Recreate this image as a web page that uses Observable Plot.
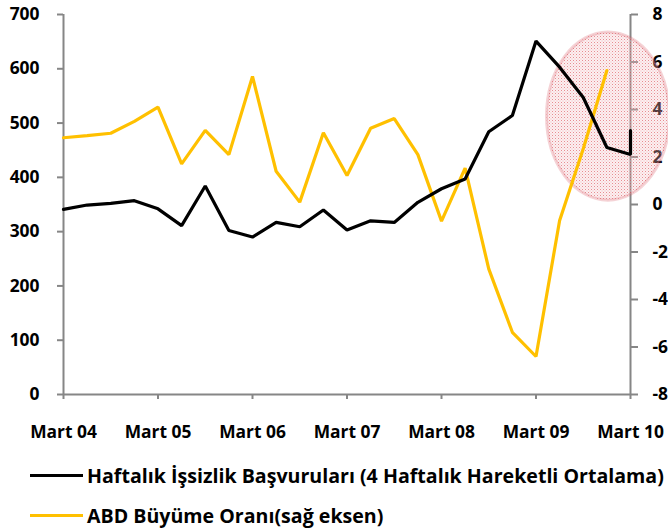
<!DOCTYPE html>
<html>
<head>
<meta charset="utf-8">
<script src="https://cdn.jsdelivr.net/npm/d3@7"></script>
<script src="https://cdn.jsdelivr.net/npm/@observablehq/plot@0.6"></script>
<style>
  html, body { margin: 0; padding: 0; background: #fff; overflow: hidden; }
  body { width: 668px; height: 531px; font-family: "Open Sans", sans-serif; font-weight: 700; }
  #legend { position: absolute; left: 30px; top: 455px; }
  .item { display: flex; align-items: center; height: 40px; font-size: 19.6px; font-weight: 700; color: #000; white-space: nowrap; }
  .sw { width: 53px; height: 3px; margin-right: 4px; }
</style>
</head>
<body>
<div id="chart"></div>
<div id="legend"></div>
<script>
// Quarter index in months since Mart 2004
const claimsMonths = [0,3,6,9,12,15,18,21,24,27,30,33,36,39,42,45,48,51,54,57,60,63,66,69,72,72];
const claims = [341,349,352,357,342,311,384,302,290,317,309,340,303,320,317,354,379,397,484,514,651,603,547,455,442,486];
const growthMonths = [0,3,6,9,12,15,18,21,24,27,30,33,36,39,42,45,48,51,54,57,60,63,66,69];
const growth = [2.81,2.9,3.0,3.5,4.1,1.71,3.12,2.1,5.39,1.40,0.1,3.02,1.22,3.21,3.62,2.1,-0.7,1.53,-2.71,-5.38,-6.4,-0.67,2.35,5.64];
const xTicks = [0,12,24,36,48,60,72];
const xTickLabels = ["Mart 04","Mart 05","Mart 06","Mart 07","Mart 08","Mart 09","Mart 10"];
const leftTicks = [0,100,200,300,400,500,600,700];
const rightTicks = [-8,-6,-4,-2,0,2,4,6,8];
const seriesNames = ["Haftalık İşsizlik Başvuruları (4 Haftalık Hareketli Ortalama)", "ABD Büyüme Oranı(sağ eksen)"];
const seriesColors = ["#000000", "#FFC000"];
// highlight ellipse (annotation) : center month/value and radii
const ellipseCenter = {month: 69.2, value: 512};
const ellipseRadius = {months: 7.8, value: 155};

const leftMax = 700, rMin = -8, rMax = 8;
const toLeft = v => (v - rMin) / (rMax - rMin) * leftMax;
const fromLeft = v => v / leftMax * (rMax - rMin) + rMin;

const claimsData = claims.map((v, i) => ({m: claimsMonths[i], v}));
const growthData = growth.map((v, i) => ({m: growthMonths[i], v: toLeft(v)}));

const axisColor = "#868686";
const chart = Plot.plot({
  width: 668,
  height: 450,
  marginLeft: 63,
  marginRight: 38,
  marginTop: 14,
  marginBottom: 56,
  style: {fontFamily: "'Open Sans', sans-serif", fontWeight: 700, fontSize: "17.4px", color: "#000", background: "#fff"},
  x: {domain: [0, 72], axis: null},
  y: {domain: [0, leftMax], axis: null},
  marks: [
    Plot.axisY(leftTicks, {anchor: "left", tickSize: 6, tickPadding: 18, stroke: axisColor, strokeWidth: 2, tickFormat: d => d, fill: "#000", fontWeight: 700, label: null}),
    Plot.axisY(rightTicks.map(toLeft), {anchor: "right", tickSize: 7, tickPadding: 15, stroke: axisColor, strokeWidth: 2, tickFormat: d => Math.round(fromLeft(d)), fill: "#000", textAnchor: "start", fontWeight: 700, label: null}),
    Plot.axisX(xTicks, {anchor: "bottom", tickSize: 5, tickPadding: 26, stroke: axisColor, strokeWidth: 2, tickFormat: d => xTickLabels[xTicks.indexOf(d)], fill: "#000", fontWeight: 700, label: null}),
    Plot.ruleX([0, 72], {stroke: axisColor, strokeWidth: 2}),
    Plot.ruleY([0], {stroke: axisColor, strokeWidth: 2}),
    Plot.line(growthData, {x: "m", y: "v", stroke: seriesColors[1], strokeWidth: 3.2, strokeLinejoin: "miter"}),
    Plot.line(claimsData, {x: "m", y: "v", stroke: seriesColors[0], strokeWidth: 3.2, strokeLinejoin: "miter"})
  ]
});
document.getElementById("chart").appendChild(chart);

// ellipse annotation placed through the chart's scales
const sx = chart.scale("x"), sy = chart.scale("y");
const cx = sx.apply(ellipseCenter.month), cy = sy.apply(ellipseCenter.value);
const rx = sx.apply(ellipseCenter.month + ellipseRadius.months) - cx;
const ry = sy.apply(ellipseCenter.value - ellipseRadius.value) - cy;
const svg = d3.select(chart);
const defs = svg.insert("defs", ":first-child");
const pat = defs.append("pattern").attr("id", "dots").attr("patternUnits", "userSpaceOnUse").attr("width", 3).attr("height", 3);
pat.append("rect").attr("width", 3).attr("height", 3).attr("fill", "rgba(245,205,210,0.3)");
pat.append("rect").attr("width", 1).attr("height", 1).attr("fill", "rgba(215,60,70,0.55)");
pat.append("rect").attr("x", 1.5).attr("y", 1.5).attr("width", 1).attr("height", 1).attr("fill", "rgba(215,60,70,0.3)");
const firstLine = chart.querySelector('g[aria-label="line"]');
const el = document.createElementNS("http://www.w3.org/2000/svg", "ellipse");
el.setAttribute("cx", cx); el.setAttribute("cy", cy); el.setAttribute("rx", rx); el.setAttribute("ry", ry);
el.setAttribute("fill", "url(#dots)");
el.setAttribute("stroke", "rgba(215,80,90,0.25)");
el.setAttribute("stroke-width", 3);
chart.insertBefore(el, firstLine);

// legend
const lg = document.getElementById("legend");
seriesNames.forEach((n, i) => {
  const d = document.createElement("div"); d.className = "item";
  const s = document.createElement("div"); s.className = "sw"; s.style.background = seriesColors[i];
  const t = document.createElement("span"); t.textContent = n;
  d.appendChild(s); d.appendChild(t); lg.appendChild(d);
});
</script>
</body>
</html>
